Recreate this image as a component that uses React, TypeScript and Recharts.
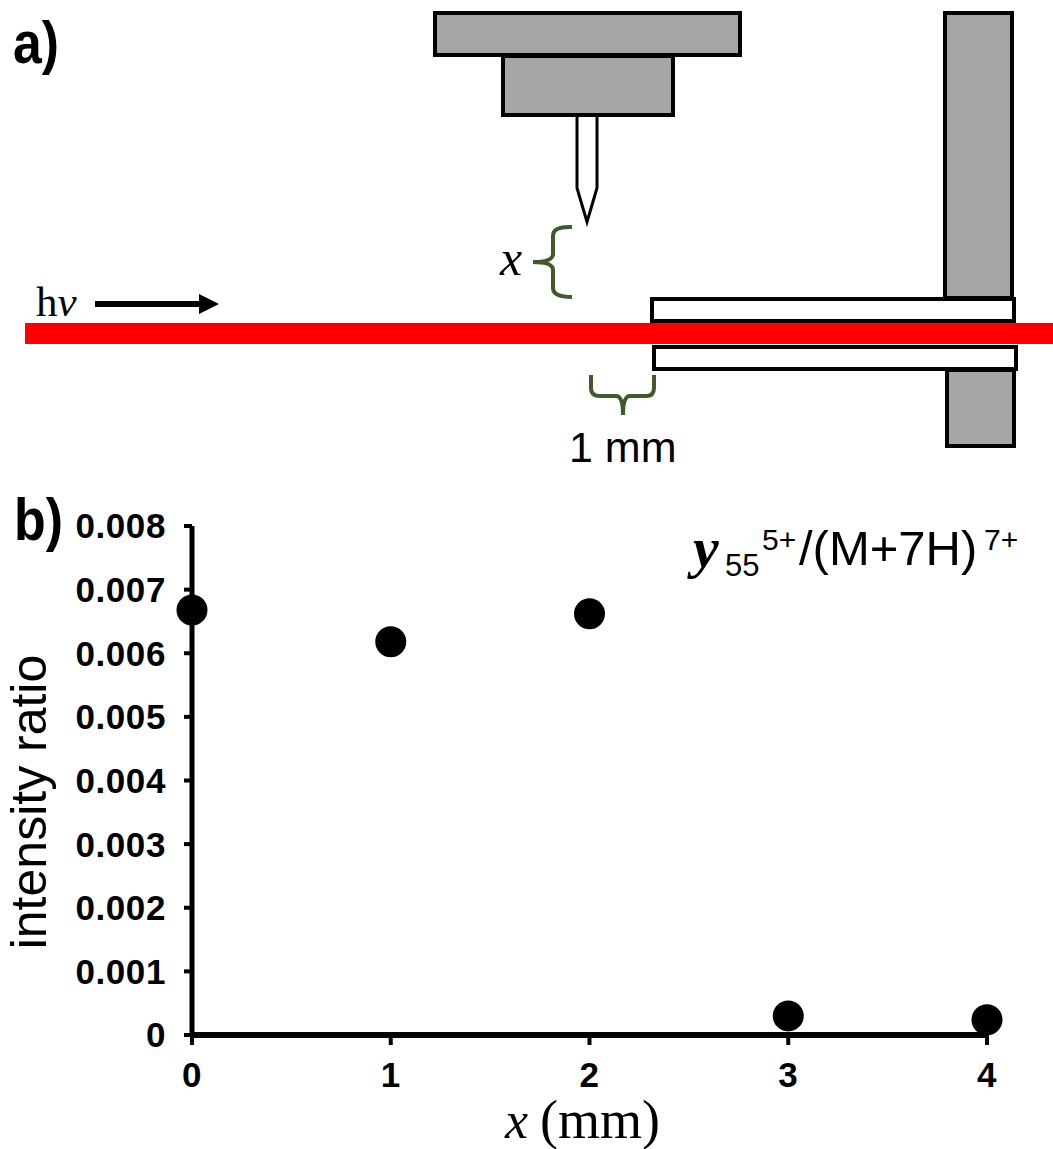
import { Scatter, ScatterChart, XAxis, YAxis } from "recharts";

const distances = [0, 1, 2, 3, 4];
const ratios = [0.00668, 0.00618, 0.00662, 0.0003, 0.00024];
const xTicks = [0, 1, 2, 3, 4];
const yTicks = [0, 0.001, 0.002, 0.003, 0.004, 0.005, 0.006, 0.007, 0.008];

const data = distances.map((x, i) => ({ x, ratio: ratios[i] }));

const SANS = "'Liberation Sans', Arial, sans-serif";
const SERIF = "'Liberation Serif', 'Times New Roman', serif";
const GRAY = "#a6a6a6";
const GREEN = "#3f5b2c";

function Schematic() {
  return (
    <svg
      width={1053}
      height={1149}
      style={{ position: "absolute", left: 0, top: 0, pointerEvents: "none" }}
    >
      {/* emitter holder and tip */}
      <rect x={435} y={13} width={305} height={42} fill={GRAY} stroke="#000" strokeWidth={4} />
      <rect x={503} y={56} width={170} height={59} fill={GRAY} stroke="#000" strokeWidth={4} />
      <path d="M577 117 L577 188 L587 222 L597 188 L597 117" fill="#fff" stroke="#000" strokeWidth={3} />

      {/* inlet block and capillary */}
      <rect x={945} y={13} width={67} height={285} fill={GRAY} stroke="#000" strokeWidth={4} />
      <rect x={947} y={370} width={67} height={76} fill={GRAY} stroke="#000" strokeWidth={4} />
      <rect x={652} y={299} width={362} height={22} fill="#fff" stroke="#000" strokeWidth={4} />
      <rect x={654} y={347} width={362} height={22} fill="#fff" stroke="#000" strokeWidth={4} />

      {/* laser */}
      <rect x={25} y={323} width={1028} height={21} fill="#ff0000" />
      <text x={36} y={316} fontFamily={SERIF} fontSize={43} fill="#000">
        h<tspan fontStyle="italic">ν</tspan>
      </text>
      <path d="M95 301 L199 301 L199 294 L219 304 L199 314 L199 307 L95 307 Z" fill="#000" />

      {/* braces */}
      <path
        d="M572 227 Q553 226 553 236 L553 254 Q553 262 533 262 Q553 262 553 270 L553 288 Q553 297 572 297"
        fill="none"
        stroke={GREEN}
        strokeWidth={4}
      />
      <path
        d="M591 375 L591 388 Q591 396 600 396 L616 396 Q623 396 623 415 Q623 396 630 396 L646 396 Q654 396 654 388 L654 375"
        fill="none"
        stroke={GREEN}
        strokeWidth={4}
      />
      <text x={500} y={275} fontFamily={SERIF} fontStyle="italic" fontSize={50} fill="#000">
        x
      </text>
      <text x={569} y={462} fontFamily={SANS} fontSize={43} fill="#000">
        1 mm
      </text>

      {/* panel letters */}
      <text
        x={13}
        y={63}
        fontFamily={SANS}
        fontWeight="bold"
        fontSize={60}
        fill="#000"
        textLength={46}
        lengthAdjust="spacingAndGlyphs"
      >
        a)
      </text>
      <text
        x={14}
        y={540}
        fontFamily={SANS}
        fontWeight="bold"
        fontSize={60}
        fill="#000"
        textLength={49}
        lengthAdjust="spacingAndGlyphs"
      >
        b)
      </text>

      {/* series title */}
      <text fontFamily={SANS} fill="#000">
        <tspan x={693} y={567} fontFamily={SERIF} fontWeight="bold" fontStyle="italic" fontSize={58}>
          y
        </tspan>
        <tspan x={725} y={576} fontSize={31}>
          55
        </tspan>
        <tspan x={762} y={550} fontSize={30}>
          5+
        </tspan>
        <tspan x={799} y={565} fontSize={49}>
          /(M+7H)
        </tspan>
        <tspan x={984} y={550} fontSize={30}>
          7+
        </tspan>
      </text>

      {/* axis titles */}
      <text
        transform="translate(46 802) rotate(-90)"
        textAnchor="middle"
        fontFamily={SANS}
        fontSize={50}
        fill="#000"
      >
        intensity ratio
      </text>
      <text fontFamily={SERIF} fill="#000">
        <tspan x={505} y={1138} fontStyle="italic" fontSize={52}>
          x
        </tspan>
        <tspan x={540} y={1138} fontSize={54}>
          (mm)
        </tspan>
      </text>
    </svg>
  );
}

const tickStyle = {
  fontFamily: SANS,
  fontWeight: "bold",
  fontSize: 35,
  fill: "#000",
  letterSpacing: 0.6,
};

export default function App() {
  return (
    <div style={{ position: "absolute", left: 0, top: 0, width: 1053, height: 1149, background: "#fff" }}>
      <ScatterChart
        width={1053}
        height={1149}
        margin={{ top: 526, right: 66, bottom: 0, left: 0 }}
      >
        <XAxis
          type="number"
          dataKey="x"
          domain={[0, 4]}
          ticks={xTicks}
          height={114}
          tick={tickStyle}
          tickSize={10}
          tickMargin={17}
          axisLine={{ stroke: "#000", strokeWidth: 6 }}
          tickLine={{ stroke: "#000", strokeWidth: 4 }}
        />
        <YAxis
          type="number"
          dataKey="ratio"
          domain={[0, 0.008]}
          ticks={yTicks}
          width={192}
          tick={tickStyle}
          tickSize={8}
          tickMargin={18}
          tickFormatter={(v: number) => (v === 0 ? "0" : v.toFixed(3))}
          axisLine={{ stroke: "#000", strokeWidth: 5 }}
          tickLine={{ stroke: "#000", strokeWidth: 4 }}
        />
        <Scatter
          data={data}
          fill="#000"
          isAnimationActive={false}
          shape={(p: { cx?: number; cy?: number }) => <circle cx={p.cx} cy={p.cy} r={15.5} fill="#000" />}
        />
      </ScatterChart>
      <Schematic />
    </div>
  );
}
